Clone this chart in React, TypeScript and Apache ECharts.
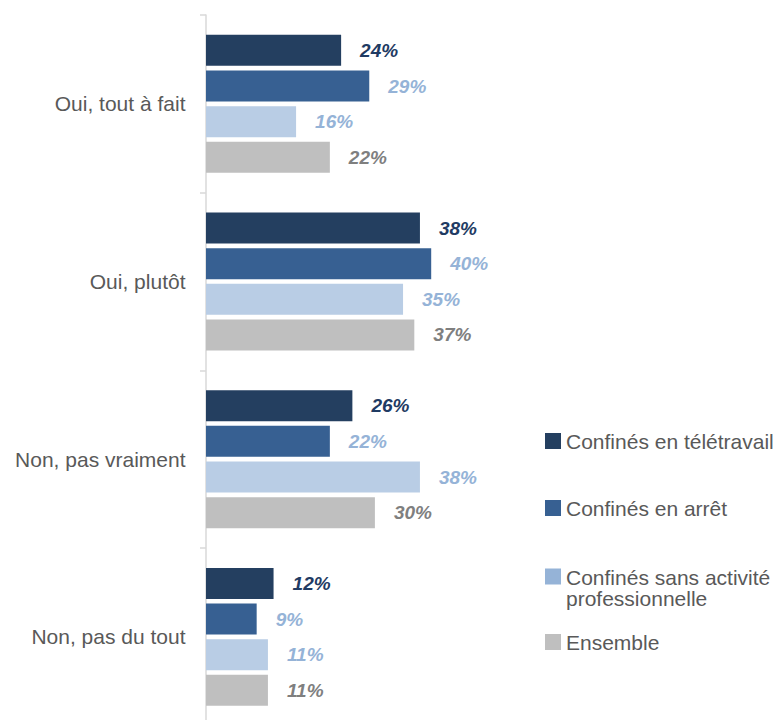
import React, { useEffect, useRef } from "react";
import * as echarts from "echarts";

const categories = ["Oui, tout à fait", "Oui, plutôt", "Non, pas vraiment", "Non, pas du tout"];
const seriesNames = [
  "Confinés en télétravail",
  "Confinés en arrêt",
  "Confinés sans activité professionnelle",
  "Ensemble",
];
const teletravail = [24, 38, 26, 12];
const arret = [29, 40, 22, 9];
const sansActivite = [16, 35, 38, 11];
const ensemble = [22, 37, 30, 11];

const barColors = ["#243F60", "#376092", "#B9CDE5", "#BFBFBF"];
const labelColors = ["#1F3B63", "#95B3D7", "#95B3D7", "#7F7F7F"];
const legendColors = ["#243F60", "#376092", "#95B3D7", "#BFBFBF"];

const FONT = "'Liberation Sans', Arial, Helvetica, sans-serif";

export default function App() {
  const ref = useRef<HTMLDivElement>(null);
  useEffect(() => {
    if (!ref.current) return;
    const chart = echarts.init(ref.current, undefined, { renderer: "svg" });
    const values = [teletravail, arret, sansActivite, ensemble];
    const legendTops = [430, 497, 566.5, 631];
    const legends = seriesNames.map((name, i) => {
      const base: any = {
        show: true,
        orient: "vertical",
        left: 545,
        top: legendTops[i],
        padding: 0,
        itemWidth: 16,
        itemHeight: 16,
        itemGap: 0,
        icon: "rect",
        selectedMode: false,
        data: [{ name, itemStyle: { color: legendColors[i] } }],
      };
      if (i === 2) {
        base.formatter = () => "{a|Confinés sans activité}\n{b|professionnelle}";
        base.textStyle = {
          fontFamily: FONT,
          fontSize: 21,
          color: "#595959",
          rich: {
            a: { fontFamily: FONT, fontSize: 21, color: "#595959", padding: [23, 0, 0, 0] },
            b: { fontFamily: FONT, fontSize: 21, color: "#595959", lineHeight: 22 },
          },
        };
      } else {
        base.textStyle = { fontFamily: FONT, fontSize: 21, color: "#595959", lineHeight: 22 };
      }
      return base;
    });
    chart.setOption({
      animation: false,
      backgroundColor: "#ffffff",
      textStyle: { fontFamily: FONT },
      legend: legends,
      grid: { left: 206, right: 12, top: 15, bottom: 14.3, containLabel: false },
      xAxis: { type: "value", min: 0, max: 100, show: false },
      yAxis: {
        type: "category",
        data: categories,
        inverse: true,
        offset: 1.5,
        axisLine: { show: true, lineStyle: { color: "#D9D9D9", width: 1.5 } },
        axisTick: { show: true, length: 6, lineStyle: { color: "#D9D9D9", width: 1.5 } },
        axisLabel: { margin: 19, fontSize: 21, color: "#595959", fontFamily: FONT },
        splitLine: { show: false },
      },
      series: seriesNames.map((name, i) => ({
        name,
        type: "bar",
        data: values[i],
        barWidth: 31,
        barGap: "15%",
        itemStyle: { color: barColors[i] },
        label: {
          show: true,
          position: "right",
          distance: 19,
          formatter: "{c}%",
          fontFamily: FONT,
          fontSize: 19,
          fontStyle: "italic",
          fontWeight: "bold",
          color: labelColors[i],
        },
      })),
    });
    return () => chart.dispose();
  }, []);
  return (
    <div
      ref={ref}
      style={{ position: "absolute", left: 0, top: 0, width: 781, height: 740 }}
    />
  );
}
